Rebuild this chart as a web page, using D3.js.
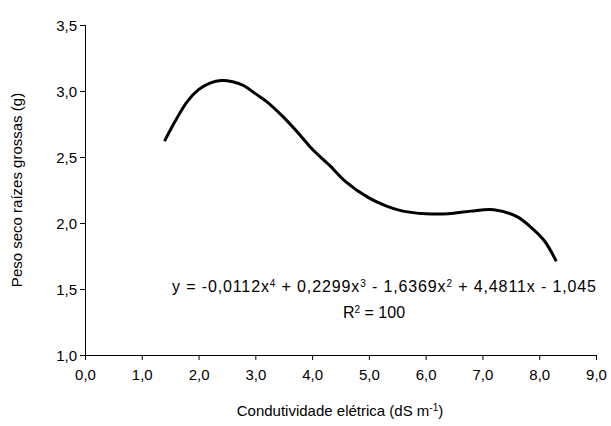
<!DOCTYPE html>
<html><head><meta charset="utf-8">
<script src="https://cdn.jsdelivr.net/npm/d3@7"></script>
<style>body{margin:0;background:#fff}text{font-family:"Liberation Sans",Arial,sans-serif;fill:#000}</style>
</head><body>
<script>
// valores
var condutividade = [1.4,1.6,1.8,2.0,2.2,2.4,2.6,2.8,3.0,3.2,3.5,3.8,4.0,4.3,4.6,5.0,5.3,5.6,6.0,6.4,6.8,7.2,7.6,7.9,8.1,8.3];
var pesoSeco = [2.62,2.78,2.92,3.01,3.06,3.08,3.07,3.04,2.98,2.92,2.80,2.66,2.56,2.44,2.31,2.19,2.13,2.09,2.07,2.07,2.09,2.10,2.05,1.95,1.86,1.71];
var xTicks = [0,1,2,3,4,5,6,7,8,9];
var yTicks = [1.0,1.5,2.0,2.5,3.0,3.5];

var fmt = function(d){ return d.toFixed(1).replace(".", ","); };
var svg = d3.select("body").append("svg").attr("width",611).attr("height",426);

var x = d3.scaleLinear().domain([0,9]).range([85,596]);
var y = d3.scaleLinear().domain([1,3.5]).range([355,25]);

svg.append("g").attr("transform","translate(0,355)")
  .call(d3.axisBottom(x).tickValues(xTicks).tickFormat(fmt).tickSizeOuter(0).tickSize(5))
  .call(function(g){ g.selectAll("text").attr("font-size",15).attr("dy","1.1em"); });
svg.append("g").attr("transform","translate(85,0)")
  .call(d3.axisLeft(y).tickValues(yTicks).tickFormat(fmt).tickSizeOuter(0).tickSize(5))
  .call(function(g){ g.selectAll("text").attr("font-size",15).attr("dy","0.35em"); });
svg.selectAll(".domain, .tick line").attr("stroke","#000");
svg.selectAll("text").attr("font-family","Liberation Sans, Arial, sans-serif");

var line = d3.line().x(function(d,i){return x(condutividade[i]);}).y(function(d){return y(d);}).curve(d3.curveCatmullRom);
svg.append("path").datum(pesoSeco).attr("d",line).attr("fill","none").attr("stroke","#000").attr("stroke-width",3);

svg.append("text").attr("x",340).attr("y",416).attr("text-anchor","middle").attr("font-size",15)
  .html('Condutividade elétrica (dS m<tspan baseline-shift="super" font-size="10">-1</tspan>)');
svg.append("text").attr("transform","translate(22,190) rotate(-90)").attr("text-anchor","middle").attr("font-size",15)
  .text("Peso seco raízes grossas (g)");

svg.append("text").attr("x",384).attr("y",292).attr("text-anchor","middle").attr("font-size",16)
  .attr("textLength",424).attr("lengthAdjust","spacing")
  .html('y = -0,0112x<tspan baseline-shift="super" font-size="10">4</tspan> + 0,2299x<tspan baseline-shift="super" font-size="10">3</tspan> - 1,6369x<tspan baseline-shift="super" font-size="10">2</tspan> + 4,4811x - 1,045');
svg.append("text").attr("x",374).attr("y",318).attr("text-anchor","middle").attr("font-size",16)
  .html('R<tspan baseline-shift="super" font-size="10">2</tspan> = 100');
</script>
</body></html>
